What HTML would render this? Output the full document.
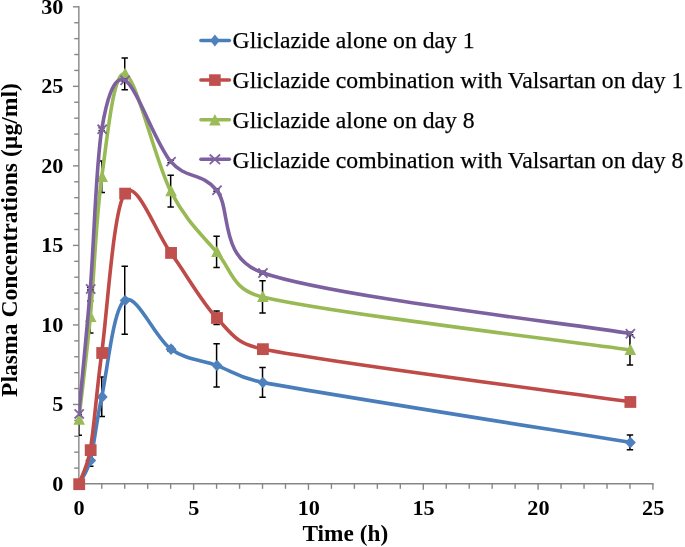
<!DOCTYPE html>
<html><head><meta charset="utf-8"><style>
html,body{margin:0;padding:0;background:#fff;}
body{width:685px;height:547px;position:relative;overflow:hidden;font-family:"Liberation Serif",serif;}
</style></head><body>

<svg width="685" height="547" viewBox="0 0 685 547" style="position:absolute;left:0;top:0;will-change:transform">
<g stroke="#868686" stroke-width="1.4" fill="none">
<path d="M78.85,6.12 L78.85,483.8 L653.62,483.8"/>
<path d="M74.25,468.09 H78.85"/>
<path d="M74.25,452.19 H78.85"/>
<path d="M74.25,436.28 H78.85"/>
<path d="M74.25,420.38 H78.85"/>
<path d="M72.95,404.47 H78.85"/>
<path d="M74.25,388.56 H78.85"/>
<path d="M74.25,372.66 H78.85"/>
<path d="M74.25,356.75 H78.85"/>
<path d="M74.25,340.85 H78.85"/>
<path d="M72.95,324.94 H78.85"/>
<path d="M74.25,309.03 H78.85"/>
<path d="M74.25,293.13 H78.85"/>
<path d="M74.25,277.22 H78.85"/>
<path d="M74.25,261.32 H78.85"/>
<path d="M72.95,245.41 H78.85"/>
<path d="M74.25,229.50 H78.85"/>
<path d="M74.25,213.60 H78.85"/>
<path d="M74.25,197.69 H78.85"/>
<path d="M74.25,181.79 H78.85"/>
<path d="M72.95,165.88 H78.85"/>
<path d="M74.25,149.97 H78.85"/>
<path d="M74.25,134.07 H78.85"/>
<path d="M74.25,118.16 H78.85"/>
<path d="M74.25,102.26 H78.85"/>
<path d="M72.95,86.35 H78.85"/>
<path d="M74.25,70.44 H78.85"/>
<path d="M74.25,54.54 H78.85"/>
<path d="M74.25,38.63 H78.85"/>
<path d="M74.25,22.73 H78.85"/>
<path d="M72.95,6.82 H78.85"/>
<path d="M78.80,483.8 V489.80"/>
<path d="M101.77,483.8 V488.80"/>
<path d="M124.73,483.8 V488.80"/>
<path d="M147.69,483.8 V488.80"/>
<path d="M170.66,483.8 V488.80"/>
<path d="M193.62,483.8 V489.80"/>
<path d="M216.59,483.8 V488.80"/>
<path d="M239.56,483.8 V488.80"/>
<path d="M262.52,483.8 V488.80"/>
<path d="M285.49,483.8 V488.80"/>
<path d="M308.45,483.8 V489.80"/>
<path d="M331.42,483.8 V488.80"/>
<path d="M354.38,483.8 V488.80"/>
<path d="M377.35,483.8 V488.80"/>
<path d="M400.31,483.8 V488.80"/>
<path d="M423.28,483.8 V489.80"/>
<path d="M446.24,483.8 V488.80"/>
<path d="M469.20,483.8 V488.80"/>
<path d="M492.17,483.8 V488.80"/>
<path d="M515.13,483.8 V488.80"/>
<path d="M538.10,483.8 V489.80"/>
<path d="M561.06,483.8 V488.80"/>
<path d="M584.03,483.8 V488.80"/>
<path d="M607.00,483.8 V488.80"/>
<path d="M629.96,483.8 V488.80"/>
<path d="M652.92,483.8 V489.80"/>
</g>
<g font-family="Liberation Serif" font-weight="bold" font-size="20.6px" fill="#000">
<text transform="translate(63.40,490.90) scale(1.08,1)" text-anchor="end">0</text>
<text transform="translate(63.40,411.37) scale(1.08,1)" text-anchor="end">5</text>
<text transform="translate(63.40,331.84) scale(1.08,1)" text-anchor="end">10</text>
<text transform="translate(63.40,252.31) scale(1.08,1)" text-anchor="end">15</text>
<text transform="translate(63.40,172.78) scale(1.08,1)" text-anchor="end">20</text>
<text transform="translate(63.40,93.25) scale(1.08,1)" text-anchor="end">25</text>
<text transform="translate(63.40,13.72) scale(1.08,1)" text-anchor="end">30</text>
<text transform="translate(79.10,515.10) scale(1.08,1)" text-anchor="middle">0</text>
<text transform="translate(193.93,515.10) scale(1.08,1)" text-anchor="middle">5</text>
<text transform="translate(308.75,515.10) scale(1.08,1)" text-anchor="middle">10</text>
<text transform="translate(423.58,515.10) scale(1.08,1)" text-anchor="middle">15</text>
<text transform="translate(538.40,515.10) scale(1.08,1)" text-anchor="middle">20</text>
<text transform="translate(653.22,515.10) scale(1.08,1)" text-anchor="middle">25</text>
</g>
<text font-family="Liberation Serif" font-weight="bold" font-size="23.3px" x="302.5" y="541" fill="#000">Time (h)</text>
<text font-family="Liberation Serif" font-weight="bold" font-size="23.6px" transform="translate(17.2,396.9) rotate(-90)" fill="#000">Plasma Concentrations (µg/ml)</text>
<defs><clipPath id="pa"><rect x="78.85" y="0" width="685" height="483.80"/></clipPath></defs>
<g stroke="#000" stroke-width="1.5" fill="none" clip-path="url(#pa)">
<path d="M90.28,454.26 V466.34 M87.08,454.26 H93.48 M87.08,466.34 H93.48"/>
<path d="M101.77,376.95 V416.40 M98.56,376.95 H104.97 M98.56,416.40 H104.97"/>
<path d="M124.73,266.25 V334.32 M121.53,266.25 H127.93 M121.53,334.32 H127.93"/>
<path d="M170.66,346.57 V351.34 M167.46,346.57 H173.86 M167.46,351.34 H173.86"/>
<path d="M216.59,343.71 V386.97 M213.39,343.71 H219.79 M213.39,386.97 H219.79"/>
<path d="M262.52,367.57 V397.15 M259.32,367.57 H265.72 M259.32,397.15 H265.72"/>
<path d="M629.96,435.01 V449.64 M626.76,435.01 H633.16 M626.76,449.64 H633.16"/>
</g>
<path clip-path="url(#pa)" d="M78.80,484.00 C80.71,480.05 86.93,473.03 90.28,460.30 C94.11,445.75 96.02,423.35 101.77,396.68 C107.51,370.01 113.25,308.24 124.73,300.29 C136.21,292.33 155.35,338.12 170.66,348.96 C185.97,359.80 201.28,359.77 216.59,365.34 C231.90,370.91 238.44,377.88 262.52,382.36 C331.41,395.19 568.72,432.33 629.96,442.33" fill="none" stroke="#4A7EBB" stroke-width="3.6" stroke-linejoin="round" stroke-linecap="round"/>
<path d="M79.20,478.40 L84.70,484.20 L79.20,490.00 L73.70,484.20Z" fill="#4F81BD"/>
<path d="M90.68,454.70 L96.18,460.50 L90.68,466.30 L85.18,460.50Z" fill="#4F81BD"/>
<path d="M102.17,391.08 L107.67,396.88 L102.17,402.68 L96.67,396.88Z" fill="#4F81BD"/>
<path d="M125.13,294.69 L130.63,300.49 L125.13,306.29 L119.63,300.49Z" fill="#4F81BD"/>
<path d="M171.06,343.36 L176.56,349.16 L171.06,354.96 L165.56,349.16Z" fill="#4F81BD"/>
<path d="M216.99,359.74 L222.49,365.54 L216.99,371.34 L211.49,365.54Z" fill="#4F81BD"/>
<path d="M262.92,376.76 L268.42,382.56 L262.92,388.36 L257.42,382.56Z" fill="#4F81BD"/>
<path d="M630.36,436.73 L635.86,442.53 L630.36,448.33 L624.86,442.53Z" fill="#4F81BD"/>
<g stroke="#000" stroke-width="1.5" fill="none" clip-path="url(#pa)">
<path d="M216.59,310.94 V324.62 M213.39,310.94 H219.79 M213.39,324.62 H219.79"/>
</g>
<path clip-path="url(#pa)" d="M78.80,484.00 C80.71,478.33 87.19,467.65 90.28,449.96 C94.11,428.09 96.02,395.54 101.77,352.78 C107.51,310.01 113.25,210.07 124.73,193.40 C136.21,176.72 155.35,232.00 170.66,252.73 C185.97,273.46 201.28,301.74 216.59,317.78 C231.90,333.82 235.32,343.43 262.52,348.96 C331.41,362.96 568.72,392.96 629.96,401.77" fill="none" stroke="#BE4B48" stroke-width="3.6" stroke-linejoin="round" stroke-linecap="round"/>
<rect x="73.30" y="478.30" width="11.80" height="11.80" fill="#C0504D"/>
<rect x="84.78" y="444.26" width="11.80" height="11.80" fill="#C0504D"/>
<rect x="96.27" y="347.08" width="11.80" height="11.80" fill="#C0504D"/>
<rect x="119.23" y="187.70" width="11.80" height="11.80" fill="#C0504D"/>
<rect x="165.16" y="247.03" width="11.80" height="11.80" fill="#C0504D"/>
<rect x="211.09" y="312.08" width="11.80" height="11.80" fill="#C0504D"/>
<rect x="257.02" y="343.26" width="11.80" height="11.80" fill="#C0504D"/>
<rect x="624.46" y="396.07" width="11.80" height="11.80" fill="#C0504D"/>
<g stroke="#000" stroke-width="1.5" fill="none" clip-path="url(#pa)">
<path d="M78.80,404.15 V435.33 M75.60,404.15 H82.00 M75.60,435.33 H82.00"/>
<path d="M90.28,301.08 V332.89 M87.08,301.08 H93.48 M87.08,332.89 H93.48"/>
<path d="M101.77,161.11 V192.60 M98.56,161.11 H104.97 M98.56,192.60 H104.97"/>
<path d="M124.73,57.88 V89.69 M121.53,57.88 H127.93 M121.53,89.69 H127.93"/>
<path d="M170.66,175.26 V207.08 M167.46,175.26 H173.86 M167.46,207.08 H173.86"/>
<path d="M216.59,236.34 V267.52 M213.39,236.34 H219.79 M213.39,267.52 H219.79"/>
<path d="M262.52,280.80 V313.09 M259.32,280.80 H265.72 M259.32,313.09 H265.72"/>
<path d="M629.96,334.80 V365.02 M626.76,334.80 H633.16 M626.76,365.02 H633.16"/>
</g>
<path clip-path="url(#pa)" d="M78.80,419.74 C80.71,402.61 86.45,357.47 90.28,316.99 C94.11,276.51 96.02,217.39 101.77,176.86 C107.51,136.32 113.25,71.40 124.73,73.78 C136.21,76.17 155.35,161.48 170.66,191.17 C185.97,220.86 201.28,234.30 216.59,251.93 C231.90,269.56 231.23,289.53 262.52,296.95 C331.41,313.28 568.72,341.08 629.96,349.91" fill="none" stroke="#98B954" stroke-width="3.6" stroke-linejoin="round" stroke-linecap="round"/>
<path d="M79.20,413.24 L85.00,424.84 L73.40,424.84Z" fill="#9BBB59"/>
<path d="M90.68,310.49 L96.48,322.09 L84.88,322.09Z" fill="#9BBB59"/>
<path d="M102.17,170.36 L107.97,181.96 L96.37,181.96Z" fill="#9BBB59"/>
<path d="M125.13,67.28 L130.93,78.88 L119.33,78.88Z" fill="#9BBB59"/>
<path d="M171.06,184.67 L176.86,196.27 L165.26,196.27Z" fill="#9BBB59"/>
<path d="M216.99,245.43 L222.79,257.03 L211.19,257.03Z" fill="#9BBB59"/>
<path d="M262.92,290.45 L268.72,302.05 L257.12,302.05Z" fill="#9BBB59"/>
<path d="M630.36,343.41 L636.16,355.01 L624.56,355.01Z" fill="#9BBB59"/>
<g stroke="#000" stroke-width="1.5" fill="none" clip-path="url(#pa)">
<path d="M78.80,412.42 V414.97 M75.60,412.42 H82.00 M75.60,414.97 H82.00"/>
<path d="M90.28,287.56 V290.11 M87.08,287.56 H93.48 M87.08,290.11 H93.48"/>
<path d="M101.77,127.86 V130.41 M98.56,127.86 H104.97 M98.56,130.41 H104.97"/>
<path d="M124.73,78.87 V81.42 M121.53,78.87 H127.93 M121.53,81.42 H127.93"/>
<path d="M170.66,160.15 V162.70 M167.46,160.15 H173.86 M167.46,162.70 H173.86"/>
<path d="M216.59,188.78 V191.33 M213.39,188.78 H219.79 M213.39,191.33 H219.79"/>
<path d="M262.52,271.18 V274.36 M259.32,271.18 H265.72 M259.32,274.36 H265.72"/>
<path d="M629.96,332.26 V334.80 M626.76,332.26 H633.16 M626.76,334.80 H633.16"/>
</g>
<path clip-path="url(#pa)" d="M78.80,413.70 C80.71,392.89 86.45,336.26 90.28,288.83 C94.11,241.41 96.02,163.92 101.77,129.14 C106.17,102.45 113.25,74.77 124.73,80.15 C136.21,85.53 155.35,143.11 170.66,161.43 C185.97,179.74 201.28,171.50 216.59,190.06 C231.90,208.61 217.83,257.26 262.52,272.77 C331.41,296.68 568.72,323.40 629.96,333.53" fill="none" stroke="#7D60A0" stroke-width="3.6" stroke-linejoin="round" stroke-linecap="round"/>
<path d="M74.60,409.30 L83.80,418.50 M83.80,409.30 L74.60,418.50" stroke="#8064A2" stroke-width="1.8" fill="none"/>
<path d="M86.08,284.43 L95.28,293.63 M95.28,284.43 L86.08,293.63" stroke="#8064A2" stroke-width="1.8" fill="none"/>
<path d="M97.57,124.74 L106.77,133.94 M106.77,124.74 L97.57,133.94" stroke="#8064A2" stroke-width="1.8" fill="none"/>
<path d="M120.53,75.75 L129.73,84.95 M129.73,75.75 L120.53,84.95" stroke="#8064A2" stroke-width="1.8" fill="none"/>
<path d="M166.46,157.03 L175.66,166.23 M175.66,157.03 L166.46,166.23" stroke="#8064A2" stroke-width="1.8" fill="none"/>
<path d="M212.39,185.66 L221.59,194.86 M221.59,185.66 L212.39,194.86" stroke="#8064A2" stroke-width="1.8" fill="none"/>
<path d="M258.32,268.37 L267.52,277.57 M267.52,268.37 L258.32,277.57" stroke="#8064A2" stroke-width="1.8" fill="none"/>
<path d="M625.76,329.13 L634.96,338.33 M634.96,329.13 L625.76,338.33" stroke="#8064A2" stroke-width="1.8" fill="none"/>
<path d="M200.9,40.50 H229.4" stroke="#4A7EBB" stroke-width="3.5" stroke-linecap="round"/>
<path d="M214.90,34.60 L219.80,40.50 L214.90,46.40 L210.00,40.50Z" fill="#4F81BD"/>
<text font-family="Liberation Serif" font-size="23.7px" x="232.6" y="48.00" fill="#000" stroke="#000" stroke-width="0.25">Gliclazide alone on day 1</text>
<path d="M200.9,80.10 H229.4" stroke="#BE4B48" stroke-width="3.5" stroke-linecap="round"/>
<rect x="209.10" y="74.30" width="11.60" height="11.60" fill="#C0504D"/>
<text font-family="Liberation Serif" font-size="23.7px" x="232.6" y="88.00" fill="#000" stroke="#000" stroke-width="0.25">Gliclazide combination with Valsartan on day 1</text>
<path d="M200.9,119.70 H229.4" stroke="#98B954" stroke-width="3.5" stroke-linecap="round"/>
<path d="M214.90,113.90 L220.70,125.50 L209.10,125.50Z" fill="#9BBB59"/>
<text font-family="Liberation Serif" font-size="23.7px" x="232.6" y="128.00" fill="#000" stroke="#000" stroke-width="0.25">Gliclazide alone on day 8</text>
<path d="M200.9,159.30 H229.4" stroke="#7D60A0" stroke-width="3.5" stroke-linecap="round"/>
<path d="M209.70,154.50 L220.10,164.10 M220.10,154.50 L209.70,164.10" stroke="#8064A2" stroke-width="1.8" fill="none"/>
<text font-family="Liberation Serif" font-size="23.7px" x="232.6" y="168.00" fill="#000" stroke="#000" stroke-width="0.25">Gliclazide combination with Valsartan on day 8</text>
</svg>
</body></html>
